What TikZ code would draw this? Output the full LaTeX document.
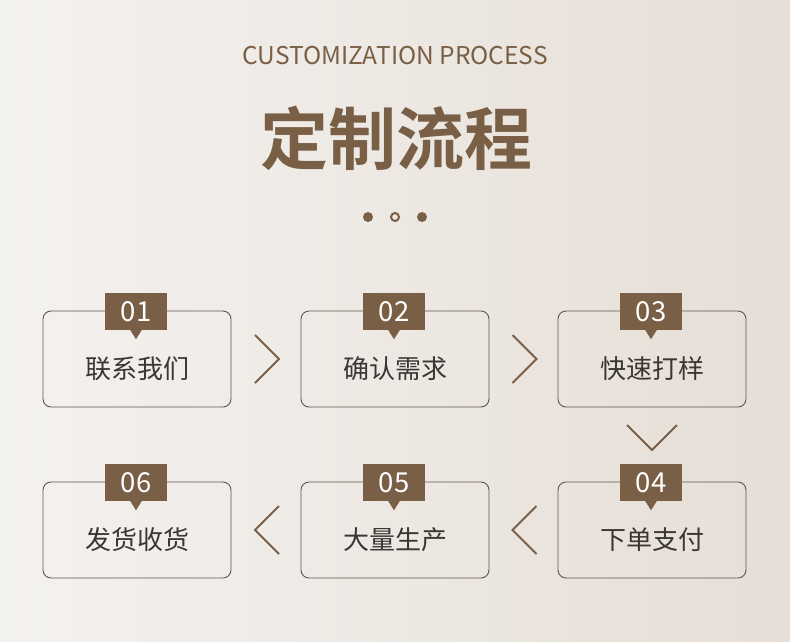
\documentclass[tikz,border=0pt]{standalone}
\usepackage{fontspec}
\setmainfont{Noto Sans CJK SC}
\newfontfamily\cjkbold[BoldFont=*]{Noto Sans CJK SC Bold}
\usetikzlibrary{calc}
\definecolor{brn}{HTML}{7A5F47}
\definecolor{bgl}{HTML}{F4F2EF}
\definecolor{bgr}{HTML}{E6DED6}
\definecolor{edge}{HTML}{5C5450}
\definecolor{txt}{HTML}{3A3633}
\tikzset{
  stepbox/.style={draw=edge, line width=0.9pt, rounded corners=8pt, minimum width=188pt, minimum height=96pt, inner sep=0pt},
  tagbox/.style={fill=brn, text=white, minimum width=62pt, minimum height=37pt, inner sep=0pt, font=\fontsize{27.5}{29}\selectfont},
  steptext/.style={text=txt, font=\fontsize{26}{28}\selectfont},
  chev/.style={draw=brn, line width=2pt},
  dotf/.style={fill=brn},
}
\begin{document}
\begin{tikzpicture}[x=1pt,y=-1pt]
\shade[left color=bgl, right color=bgr] (0,0) rectangle (790,641);
\useasboundingbox (0,0) rectangle (790,641);
\node[text=brn, font=\fontsize{24.5}{26}\selectfont] (en) at (395,56) {CUSTOMIZATION PROCESS};
\node[text=brn, font=\cjkbold\fontsize{68}{70}\selectfont] (cn) at (396,138) {定制流程};
\fill[dotf] (368,217) circle (5pt);
\draw[brn, line width=2pt] (395,217) circle (4pt);
\fill[dotf] (422,217) circle (5pt);
% boxes
\node[stepbox] (b1) at (137,359) {};
\node[stepbox] (b2) at (395,359) {};
\node[stepbox] (b3) at (652,359) {};
\node[stepbox] (b4) at (652,530) {};
\node[stepbox] (b5) at (395,530) {};
\node[stepbox] (b6) at (137,530) {};
\foreach \b/\n/\t in {b1/01/联系我们, b2/02/确认需求, b3/03/快速打样, b4/04/下单支付, b5/05/大量生产, b6/06/发货收货}{
  \node[tagbox] (\b tag) at ($(\b.north)+(-1,1)$) {\n};
  \fill[brn] ($(\b tag.south)+(-6,-0.5)$) -- ($(\b tag.south)+(6,-0.5)$) -- ($(\b tag.south)+(0,9)$) -- cycle;
  \node[steptext] (\b txt) at ($(\b.center)+(0,10)$) {\t};
}
% chevrons
\coordinate (c12) at ($(b1.east)!0.5!(b2.west)$);
\coordinate (c23) at ($(b2.east)!0.5!(b3.west)$);
\coordinate (c34) at ($(b3.south)!0.5!(b4.north)$);
\coordinate (c45) at ($(b5.east)!0.5!(b4.west)$);
\coordinate (c56) at ($(b6.east)!0.5!(b5.west)$);
\draw[chev] ($(c12)+(-11,-24)$) -- ($(c12)+(13,0)$) -- ($(c12)+(-11,24)$);
\draw[chev] ($(c23)+(-11,-24)$) -- ($(c23)+(13,0)$) -- ($(c23)+(-11,24)$);
\draw[chev] ($(c34)+(-25,-19.5)$) -- ($(c34)+(0,5.5)$) -- ($(c34)+(25,-19.5)$);
\draw[chev] ($(c45)+(13,-24)$) -- ($(c45)+(-11,0)$) -- ($(c45)+(13,24)$);
\draw[chev] ($(c56)+(13,-24)$) -- ($(c56)+(-11,0)$) -- ($(c56)+(13,24)$);
\end{tikzpicture}
\end{document}
